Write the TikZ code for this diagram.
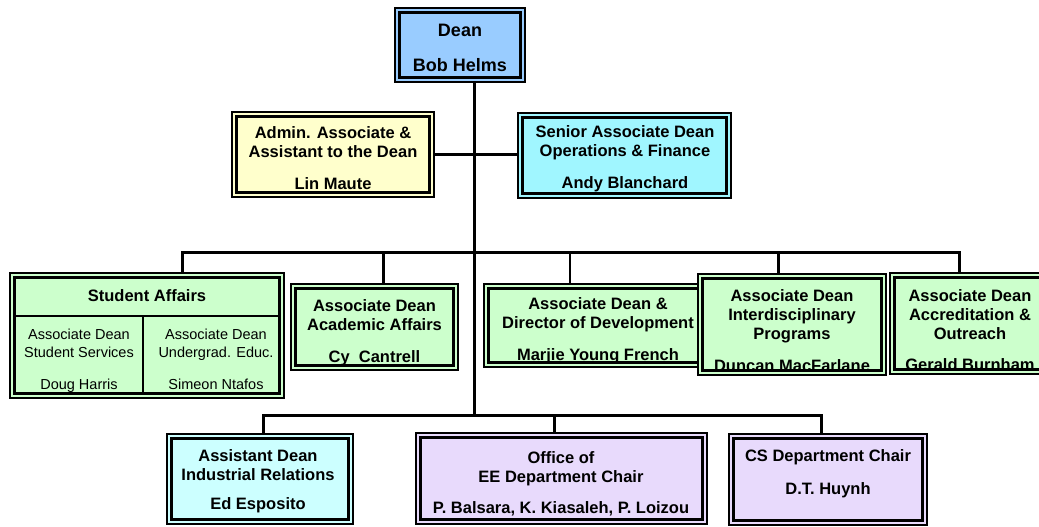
\documentclass[tikz,border=0pt]{standalone}
\usepackage{fontspec}
\setmainfont{Liberation Sans}
\usetikzlibrary{fit,backgrounds}

\definecolor{deanblue}{RGB}{153,204,255}
\definecolor{adminyellow}{RGB}{255,255,204}
\definecolor{seniorcyan}{RGB}{160,246,255}
\definecolor{mintgreen}{RGB}{204,255,204}
\definecolor{palecyan}{RGB}{204,255,255}
\definecolor{lavender}{RGB}{232,218,252}

\tikzset{
  unitbox/.style={fill=#1, draw=none, inner sep=0pt, outer sep=0pt},
  rim/.style={draw=black, line width=1.6pt},
  core/.style={draw=black, line width=2.4pt},
  boxtext/.style={anchor=north, align=center, inner sep=0pt,
    font=\bfseries\fontsize{16.5}{19}\selectfont},
  subtext/.style={anchor=north, align=center, inner sep=0pt,
    font=\fontsize{14.5}{18}\selectfont},
  conn/.style={draw=black, line width=3pt, line join=miter},
  thinconn/.style={draw=black, line width=1.8pt},
  divider/.style={draw=black, line width=1.2pt},
}

% filled unit box spanning two corners
\newcommand{\orgbox}[6]{\node[unitbox=#2, fit={(#3,#4) (#5,#6)}] (#1) {};}
% thin outer rim plus heavy inner frame
\newcommand{\orgframe}[1]{%
  \draw[rim] ([shift={(0.8pt,0.8pt)}]#1.south west) rectangle ([shift={(-0.8pt,-0.8pt)}]#1.north east);
  \draw[core] ([shift={(5.6pt,5.6pt)}]#1.south west) rectangle ([shift={(-5.6pt,-5.6pt)}]#1.north east);}

\begin{document}
\begin{tikzpicture}[x=1pt,y=-1pt]
\useasboundingbox (0,0) rectangle (1039,527);

% branch points of the connector tree
\coordinate (top1) at (182,252);
\coordinate (top2) at (383,252);
\coordinate (top3) at (570,252);
\coordinate (top4) at (778,252);
\coordinate (top5) at (959,252);
\coordinate (spine) at (474,415);
\coordinate (low1) at (263,415);
\coordinate (low2) at (554,415);
\coordinate (low3) at (821,415);

% top level
\orgbox{dean}{deanblue}{394}{7}{526}{83}
\node[boxtext, font=\bfseries\fontsize{18}{19}\selectfont] (dean-t) at (460,23.5) {Dean\\[16.5pt]Bob Helms};
\orgframe{dean}
\orgbox{admin}{adminyellow}{231}{111}{435}{198}
\node[boxtext] (admin-t) at (333,126) {Admin. Associate \&\\Assistant to the Dean\\[13pt]Lin Maute};
\orgframe{admin}
\orgbox{senior}{seniorcyan}{517}{112}{732}{199}
\node[boxtext] (senior-t) at (625,125) {Senior Associate Dean\\Operations \& Finance\\[13pt]Andy Blanchard};
\orgframe{senior}

% middle row
\orgbox{dev}{mintgreen}{483}{283}{713}{368}
\node[boxtext] (dev-t) at (598,297.5) {Associate Dean \&\\Director of Development\\[13pt]Marjie Young French};
\orgframe{dev}

\orgbox{sa}{mintgreen}{9}{272}{285}{399}
\node[boxtext] (sa-h) at (147,289) {Student Affairs};
\node[subtext] (sa-l) at (79,328.8) {Associate Dean\\Student Services\\[14pt]Doug Harris};
\node[subtext] (sa-r) at (216,328.8) {Associate Dean\\Undergrad. Educ.\\[14pt]Simeon Ntafos};
\coordinate (sa-split) at (143,316);
\draw[divider] ([xshift=5.6pt]sa.west |- sa-split) -- ([xshift=-5.6pt]sa.east |- sa-split);
\draw[divider] (sa-split) -- ([yshift=5.6pt]sa.south -| sa-split);
\orgframe{sa}

\orgbox{acad}{mintgreen}{290}{283}{459}{371}
\node[boxtext] (acad-t) at (374.5,299) {Associate Dean\\Academic Affairs\\[13pt]Cy~~Cantrell};
\orgframe{acad}

\orgbox{id}{mintgreen}{697}{273}{887}{376}
\node[boxtext] (id-t) at (792,289) {Associate Dean\\Interdisciplinary\\Programs\\[13.8pt]Duncan MacFarlane};
\orgframe{id}

\orgbox{acc}{mintgreen}{889}{272}{1052}{375}
\node[boxtext] (acc-t) at (970,289) {Associate Dean\\Accreditation \&\\Outreach\\[12.5pt]Gerald Burnham};
\orgframe{acc}

% bottom row
\orgbox{asst}{palecyan}{166}{433}{354}{525}
\node[boxtext] (asst-t) at (258,449) {Assistant Dean\\Industrial Relations\\[10.5pt]Ed Esposito};
\orgframe{asst}

\orgbox{ee}{lavender}{415}{432}{708}{525}
\node[boxtext] (ee-t) at (561,451) {Office of\\EE Department Chair\\[12pt]P. Balsara, K. Kiasaleh, P. Loizou};
\orgframe{ee}

\orgbox{cs}{lavender}{728}{433}{928}{526}
\node[boxtext] (cs-t) at (828,449) {CS Department Chair\\[14.5pt]D.T. Huynh};
\orgframe{cs}

% connectors, kept beneath the boxes
\begin{pgfonlayer}{background}
\fill[white] (0,0) rectangle (1039,527);
\draw[conn] (dean.south -| spine) -- (spine);
\draw[conn, line width=2.6pt] (admin.east) -- (admin.east -| senior.west);
\draw[conn] (sa.north -| top1) -- (top1) -- (top5) -- (acc.north -| top5);
\draw[conn] (top2) -- (acad.north -| top2);
\draw[thinconn] (top3) -- (dev.north -| top3);
\draw[conn] (top4) -- (id.north -| top4);
\draw[conn] (asst.north -| low1) -- (low1) -- (low3) -- (cs.north -| low3);
\draw[conn] (low2) -- (ee.north -| low2);
\end{pgfonlayer}
\end{tikzpicture}
\end{document}
